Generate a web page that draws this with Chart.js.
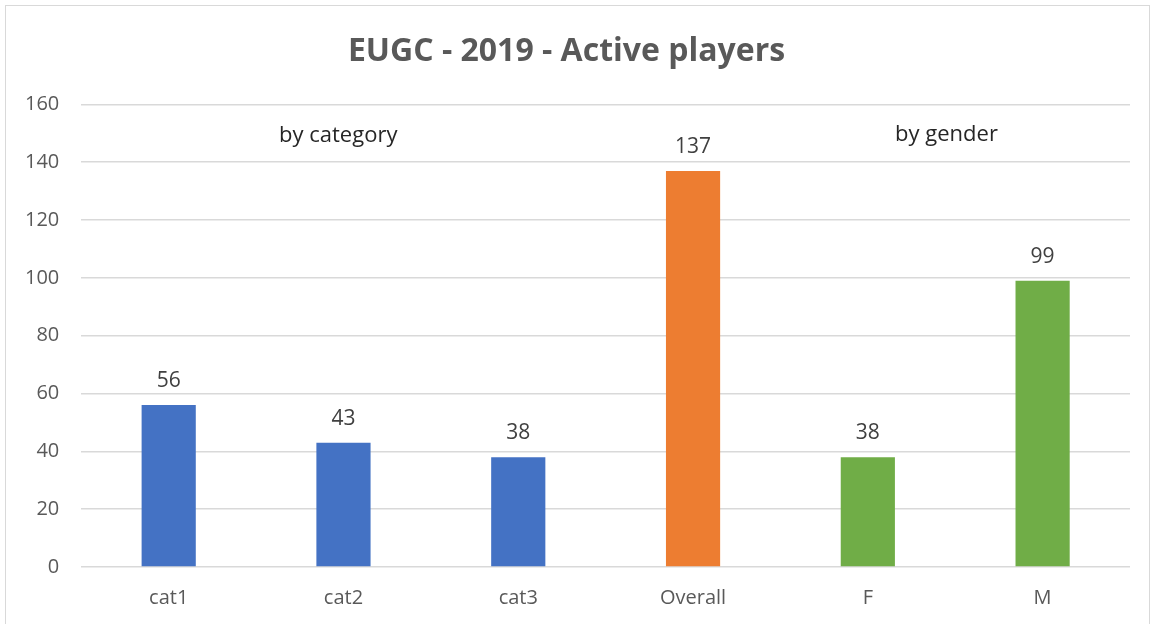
<!DOCTYPE html>
<html>
<head>
<meta charset="utf-8">
<script src="https://cdn.jsdelivr.net/npm/chart.js@4"></script>
<style>
  body { margin: 0; background: #fff; }
  #wrap { position: relative; width: 1155px; height: 624px; overflow: hidden; }
  #frame { position: absolute; left: 5px; top: 5px; width: 1143px; height: 625px; border: 1px solid #d9d9d9; }
</style>
</head>
<body>
<div id="wrap">
  <div id="frame"></div>
  <canvas id="chart" width="1155" height="624"></canvas>
</div>
<script>
// chart data
const categories = ['cat1', 'cat2', 'cat3', 'Overall', 'F', 'M']
const players = [56, 43, 38, 137, 38, 99]
const barColors = ['#4472C4', '#4472C4', '#4472C4', '#ED7D31', '#70AD47', '#70AD47']

// group notes over the bars
const noteLabels = ['by category', 'by gender']
const noteAt = [0.97, 4.45]
const noteValue = [149, 149.5]

const fontFamily = "'Open Sans', 'Liberation Sans', sans-serif"

//value labels above the bars + group notes
const labelsPlugin = {
    id: 'labels',
    afterDatasetsDraw(chart) {
        const ctx = chart.ctx
        const meta = chart.getDatasetMeta(0)
        ctx.save()
        ctx.font = '21px ' + fontFamily
        ctx.fillStyle = '#404040'
        ctx.textAlign = 'center'
        ctx.textBaseline = 'middle'
        meta.data.forEach((bar, i) => {
            ctx.fillText(players[i], bar.x, bar.y - 24)
        })
        const x = chart.scales.x
        const y = chart.scales.y
        ctx.fillStyle = '#262626'
        ctx.font = '22px ' + fontFamily
        noteLabels.forEach((txt, i) => {
            ctx.fillText(txt, x.getPixelForValue(noteAt[i]), y.getPixelForValue(noteValue[i]))
        })
        ctx.restore()
    }
}

const config = {
    type: 'bar',
    data: {
        labels: categories,
        datasets: [{
            label: 'Active players',
            data: players,
            backgroundColor: barColors,
            categoryPercentage: 1,
            barPercentage: 0.31
        }]
    },
    options: {
        responsive: false,
        animation: false,
        layout: { padding: { left: 3, right: 25, top: 33, bottom: -5 } },
        plugins: {
            legend: { display: false },
            tooltip: { enabled: false },
            title: {
                display: true,
                text: 'EUGC - 2019 - Active players',
                color: '#595959',
                font: { family: fontFamily, size: 32, weight: 'bold' },
                padding: { top: 0, bottom: 33 }
            }
        },
        scales: {
            x: {
                grid: { display: false, drawTicks: false },
                border: { display: false },
                ticks: { color: '#595959', font: { family: fontFamily, size: 20 }, padding: 19 }
            },
            y: {
                min: 0,
                max: 160,
                ticks: { stepSize: 20, color: '#595959', font: { family: fontFamily, size: 20 }, padding: 22 },
                grid: { color: '#d9d9d9', lineWidth: 1.5, drawTicks: false },
                border: { display: false }
            }
        }
    },
    plugins: [labelsPlugin]
}

const myChart = new Chart(document.getElementById('chart'), config)
</script>
</body>
</html>
